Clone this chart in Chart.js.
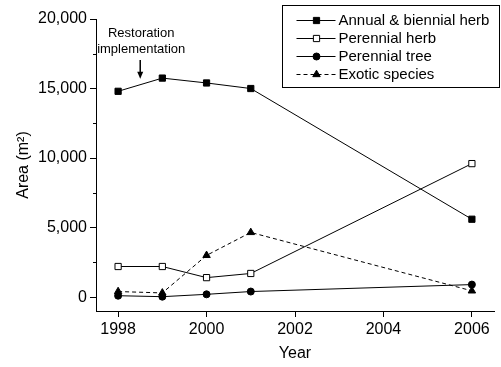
<!DOCTYPE html>
<html>
<head>
<meta charset="utf-8">
<script src="https://cdn.jsdelivr.net/npm/chart.js@4"></script>
<style>
  html, body { margin: 0; padding: 0; background: #fff; }
  #wrap { width: 501px; height: 367px; }
</style>
</head>
<body>
<div id="wrap"><canvas id="chart" width="501" height="367"></canvas></div>
<script>
// Dados
const years = [1998, 1999, 2000, 2001, 2006];
const annualHerb = [14800, 15750, 15400, 15000, 5600];
const perennialHerb = [2200, 2200, 1400, 1700, 9600];
const perennialTree = [100, 30, 200, 400, 900];
const exoticSpecies = [400, 300, 3000, 4650, 450];
const xTicks = [1998, 2000, 2002, 2004, 2006];
const yTicks = [0, 5000, 10000, 15000, 20000];
const yMinorTicks = [2500, 7500, 12500, 17500];
const seriesNames = ['Annual & biennial herb', 'Perennial herb', 'Perennial tree', 'Exotic species'];

const FONT = "'Liberation Sans', Arial, sans-serif";
Chart.defaults.font.family = FONT;
Chart.defaults.color = '#000';

function toPoints(vals) {
    return years.map((y, i) => ({ x: y, y: vals[i] }));
}

const datasets = [
    { label: seriesNames[0], data: toPoints(annualHerb), pointStyle: 'rect', pointRadius: 4.4, backgroundColor: '#000', borderDash: [] },
    { label: seriesNames[1], data: toPoints(perennialHerb), pointStyle: 'rect', pointRadius: 4.4, backgroundColor: '#fff', borderDash: [] },
    { label: seriesNames[2], data: toPoints(perennialTree), pointStyle: 'circle', pointRadius: 3.5, backgroundColor: '#000', borderDash: [] },
    { label: seriesNames[3], data: toPoints(exoticSpecies), pointStyle: 'triangle', pointRadius: 4.3, backgroundColor: '#000', borderDash: [4, 3] }
].map(d => Object.assign(d, {
    borderColor: '#000',
    borderWidth: 1,
    pointBorderColor: '#000',
    pointBorderWidth: 1,
    pointHoverRadius: d.pointRadius,
    tension: 0
}));

// Plugin: ticks menores, anotação e legenda em caixa
const extras = {
    id: 'extras',
    afterDraw(chart) {
        const ctx = chart.ctx;
        const xs = chart.scales.x, ys = chart.scales.y;
        ctx.save();
        ctx.strokeStyle = '#000';
        ctx.lineWidth = 1;

        // ticks menores do eixo y
        yMinorTicks.forEach(v => {
            const py = Math.round(ys.getPixelForValue(v)) + 0.5;
            ctx.beginPath();
            ctx.moveTo(xs.left - 3, py);
            ctx.lineTo(xs.left, py);
            ctx.stroke();
        });

        // anotação "Restoration implementation"
        const ax = xs.getPixelForValue(1998.5);
        ctx.fillStyle = '#000';
        ctx.font = '13px ' + FONT;
        ctx.textAlign = 'center';
        ctx.textBaseline = 'middle';
        ctx.fillText('Restoration', ax + 1, 33);
        ctx.fillText('implementation', ax + 1, 49);
        const tipY = ys.getPixelForValue(15700);
        ctx.beginPath();
        ctx.moveTo(ax, 60);
        ctx.lineTo(ax, tipY - 4);
        ctx.lineWidth = 1.5;
        ctx.stroke();
        ctx.beginPath();
        ctx.moveTo(ax - 3, tipY - 7);
        ctx.lineTo(ax + 3, tipY - 7);
        ctx.lineTo(ax, tipY);
        ctx.closePath();
        ctx.fill();

        // legenda
        ctx.lineWidth = 1;
        const bx = 282.5, by = 5.5, bw = 217, bh = 82;
        ctx.strokeRect(bx, by, bw, bh);
        ctx.font = '15px ' + FONT;
        ctx.textAlign = 'left';
        chart.data.datasets.forEach((ds, i) => {
            const ly = 20 + i * 18;
            ctx.strokeStyle = '#000';
            ctx.setLineDash(ds.borderDash);
            ctx.beginPath();
            ctx.moveTo(bx + 14, ly + 0.5);
            ctx.lineTo(bx + 53, ly + 0.5);
            ctx.stroke();
            ctx.setLineDash([]);
            ctx.fillStyle = ds.backgroundColor;
            Chart.helpers.drawPoint(ctx, {
                pointStyle: ds.pointStyle,
                radius: ds.pointRadius,
                borderWidth: 1,
                rotation: 0
            }, bx + 34, ly + 0.5);
            ctx.fillStyle = '#000';
            ctx.fillText(ds.label, bx + 56, ly + 1);
        });
        ctx.restore();
    }
};

new Chart(document.getElementById('chart').getContext('2d'), {
    type: 'line',
    data: { datasets: datasets },
    options: {
        responsive: false,
        animation: false,
        layout: { padding: { top: 19, right: 7, left: 14, bottom: 0 } },
        plugins: {
            legend: { display: false },
            tooltip: { enabled: false }
        },
        scales: {
            x: {
                type: 'linear',
                min: 1997.5,
                max: 2006.5,
                afterBuildTicks: s => { s.ticks = xTicks.map(v => ({ value: v })); },
                afterFit: s => { s.height = 56; },
                ticks: {
                    font: { size: 16 },
                    color: '#000',
                    padding: 3,
                    maxRotation: 0,
                    callback: v => String(v)
                },
                grid: { drawOnChartArea: false, drawTicks: true, tickLength: 6, color: '#000' },
                border: { display: true, color: '#000', width: 1 },
                title: { display: true, text: 'Year', font: { size: 16 }, color: '#000', padding: { top: 10 } }
            },
            y: {
                min: -1000,
                max: 20000,
                afterBuildTicks: s => { s.ticks = yTicks.map(v => ({ value: v })); },
                afterFit: s => { s.width = 82; },
                ticks: {
                    font: { size: 16 },
                    color: '#000',
                    padding: 3,
                    callback: v => v.toLocaleString('en-US')
                },
                grid: { drawOnChartArea: false, drawTicks: true, tickLength: 6, color: '#000' },
                border: { display: true, color: '#000', width: 1 },
                title: { display: true, text: 'Area (m\u00B2)', font: { size: 16 }, color: '#000', padding: { top: 0, bottom: 0 } }
            }
        }
    },
    plugins: [extras]
});
</script>
</body>
</html>
